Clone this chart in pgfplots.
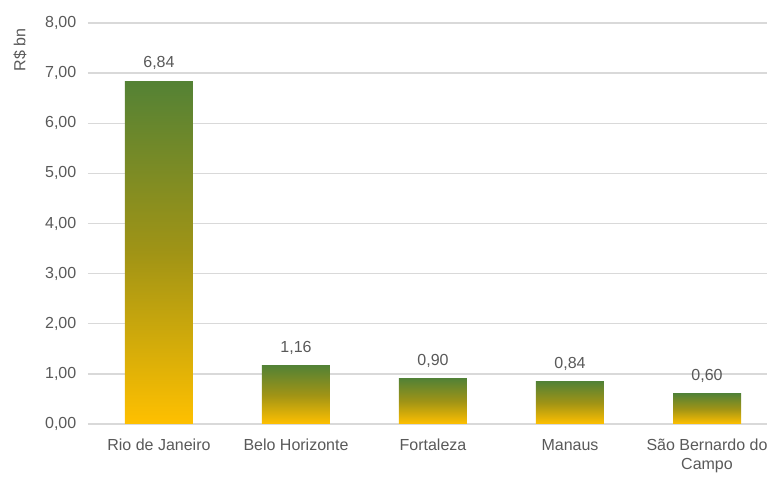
\documentclass[border=0pt]{standalone}
\usepackage{fontspec}
\setmainfont{Liberation Sans}
\usepackage{pgfplots}
\pgfplotsset{compat=1.18}
\usetikzlibrary{calc}

\definecolor{txtgray}{RGB}{89,89,89}
\definecolor{gridgray}{RGB}{217,217,217}
\definecolor{bargreen}{RGB}{84,130,53}
\definecolor{baryellow}{RGB}{255,192,0}

% each bar is its own plot, so that each gets its own gradient
\pgfplotsset{gbar/.style={ybar, bar width=40.8pt, bar shift=0pt, draw=none,
    top color=bargreen, bottom color=baryellow,
    middle color=baryellow!55!bargreen!90!black}}

\begin{document}
\begin{tikzpicture}
\begin{axis}[
  width=407.4pt, height=240.6pt,
  scale only axis,
  ymin=0, ymax=8,
  xmin=-0.518, xmax=4.438,
  ytick={0,1,...,8},
  xtick={0,1,2,3,4},
  xticklabels={Rio de Janeiro, Belo Horizonte, Fortaleza, Manaus, {São Bernardo do\\Campo}},
  axis line style={draw=none},
  major tick length=0pt,
  ymajorgrids,
  grid style={gridgray, line width=0.8pt},
  font=\fontsize{9.6}{11.5}\selectfont,
  tick label style={txtgray},
  x tick label style={align=center, yshift=-5.5pt},
  y tick label style={xshift=-3.5pt},
  yticklabel style={/pgf/number format/.cd, fixed, fixed zerofill, precision=2, use comma, assume math mode=true},
  nodes near coords,
  every node near coord/.append style={txtgray, yshift=3.5pt,
    /pgf/number format/.cd, fixed, fixed zerofill, precision=2, use comma, assume math mode=true},
  clip=false,
]
\addplot[gbar] coordinates {(0,6.84)};
\addplot[gbar] coordinates {(1,1.16)};
\addplot[gbar] coordinates {(2,0.90)};
\addplot[gbar] coordinates {(3,0.84)};
\addplot[gbar] coordinates {(4,0.60)};
\coordinate (bl) at (rel axis cs:0,0);
\coordinate (tr) at (rel axis cs:1,1);
\node[txtgray, rotate=90, anchor=center] at ([xshift=-40.8pt]rel axis cs:0,0.9325) {R\$ bn};
\end{axis}
\pgfresetboundingbox
\useasboundingbox ($(bl)+(-52.8pt,-34.2pt)$) rectangle ($(tr)+(0,13.8pt)$);
\end{tikzpicture}
\end{document}
